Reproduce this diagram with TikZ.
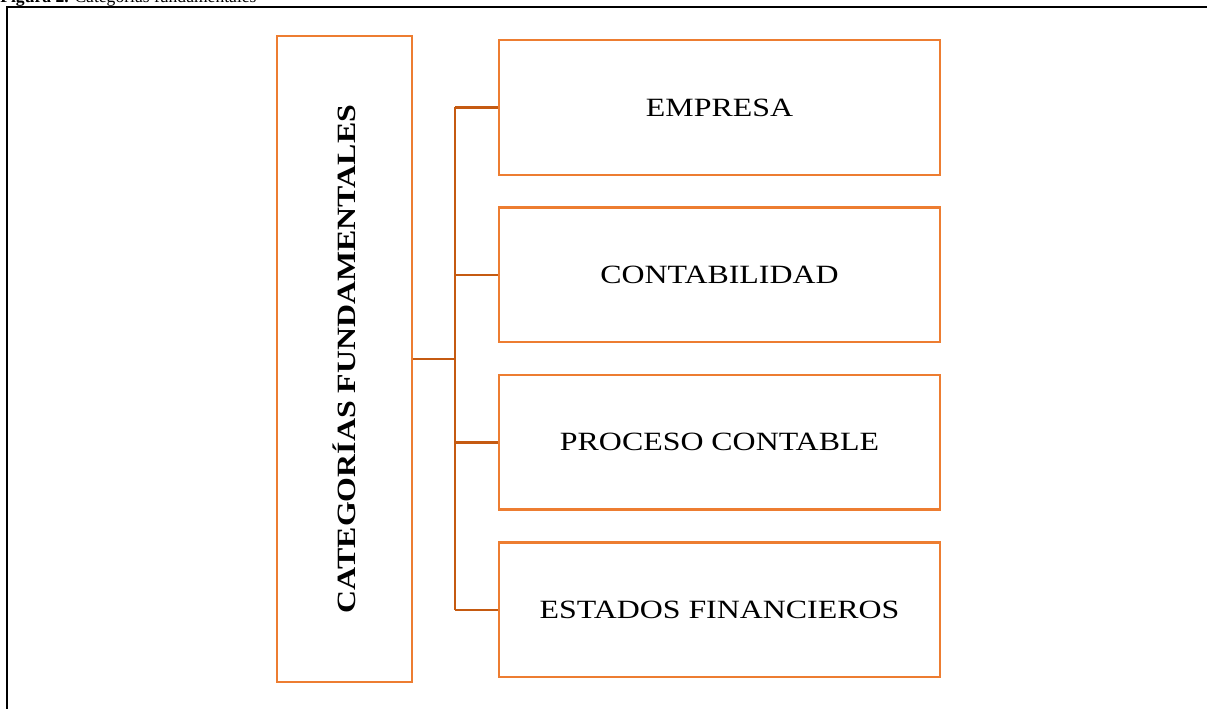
\documentclass[tikz,border=0pt]{standalone}
\usepackage{fontspec}
\setmainfont{Liberation Serif}
\newfontfamily\boxfont[FakeStretch=1.21]{Liberation Serif}
\usetikzlibrary{positioning,calc}
\definecolor{BoxOrange}{RGB}{237,125,49}
\definecolor{LinkOrange}{RGB}{197,90,17}
\tikzset{
    link/.style={draw=LinkOrange, line width=1.4pt}
}

\begin{document}
\begin{tikzpicture}[
        x=0.02cm, y=-0.02cm,
        % Style cho cac hop
        itembox/.style={
            rectangle,
            draw=BoxOrange,
            line width=1.4pt,
            minimum width=8.82cm,
            minimum height=2.69cm,
            inner sep=0pt,
            font=\boxfont\fontsize{15}{18}\selectfont
        },
        catbox/.style={
            rectangle,
            draw=BoxOrange,
            line width=1.4pt,
            minimum width=2.7cm,
            minimum height=12.92cm,
            inner sep=0pt
        }
    ]
        \useasboundingbox (0,0) rectangle (1207,709);

        % --- TITULO Y MARCO ---
        \node[anchor=base west, inner sep=0pt, font=\fontsize{10}{12}\selectfont] (caption) at (0,2.5) {\textbf{Figura 2.} Categorías fundamentales};
        \draw[black, line width=1.1pt] (1207,7) -| (7,709);

        % --- HOP CENTRAL ---
        \node[catbox] (cat) at (344.5,359) {};
        \node[rotate=90, inner sep=0pt, font=\boxfont\bfseries\fontsize{15}{18}\selectfont] (catlabel) at (cat) {CATEGORÍAS FUNDAMENTALES};

        % --- CAC HOP ---
        \node[itembox] (emp) at (719.5,107.5) {EMPRESA};
        \node[itembox, below=0.61cm of emp] (con) {CONTABILIDAD};
        \node[itembox, below=0.61cm of con] (pro) {PROCESO CONTABLE};
        \node[itembox, below=0.61cm of pro] (est) {ESTADOS FINANCIEROS};

        % --- DUONG NOI ---
        \coordinate (trunk) at (455,359);
        \draw[link] (cat.east) -- (trunk);
        \draw[link] (trunk |- emp.west) -- (trunk |- est.west);
        \foreach \item in {emp, con, pro, est} {
            \draw[link] (trunk |- \item.west) -- (\item.west);
        }

    \end{tikzpicture}
\end{document}
